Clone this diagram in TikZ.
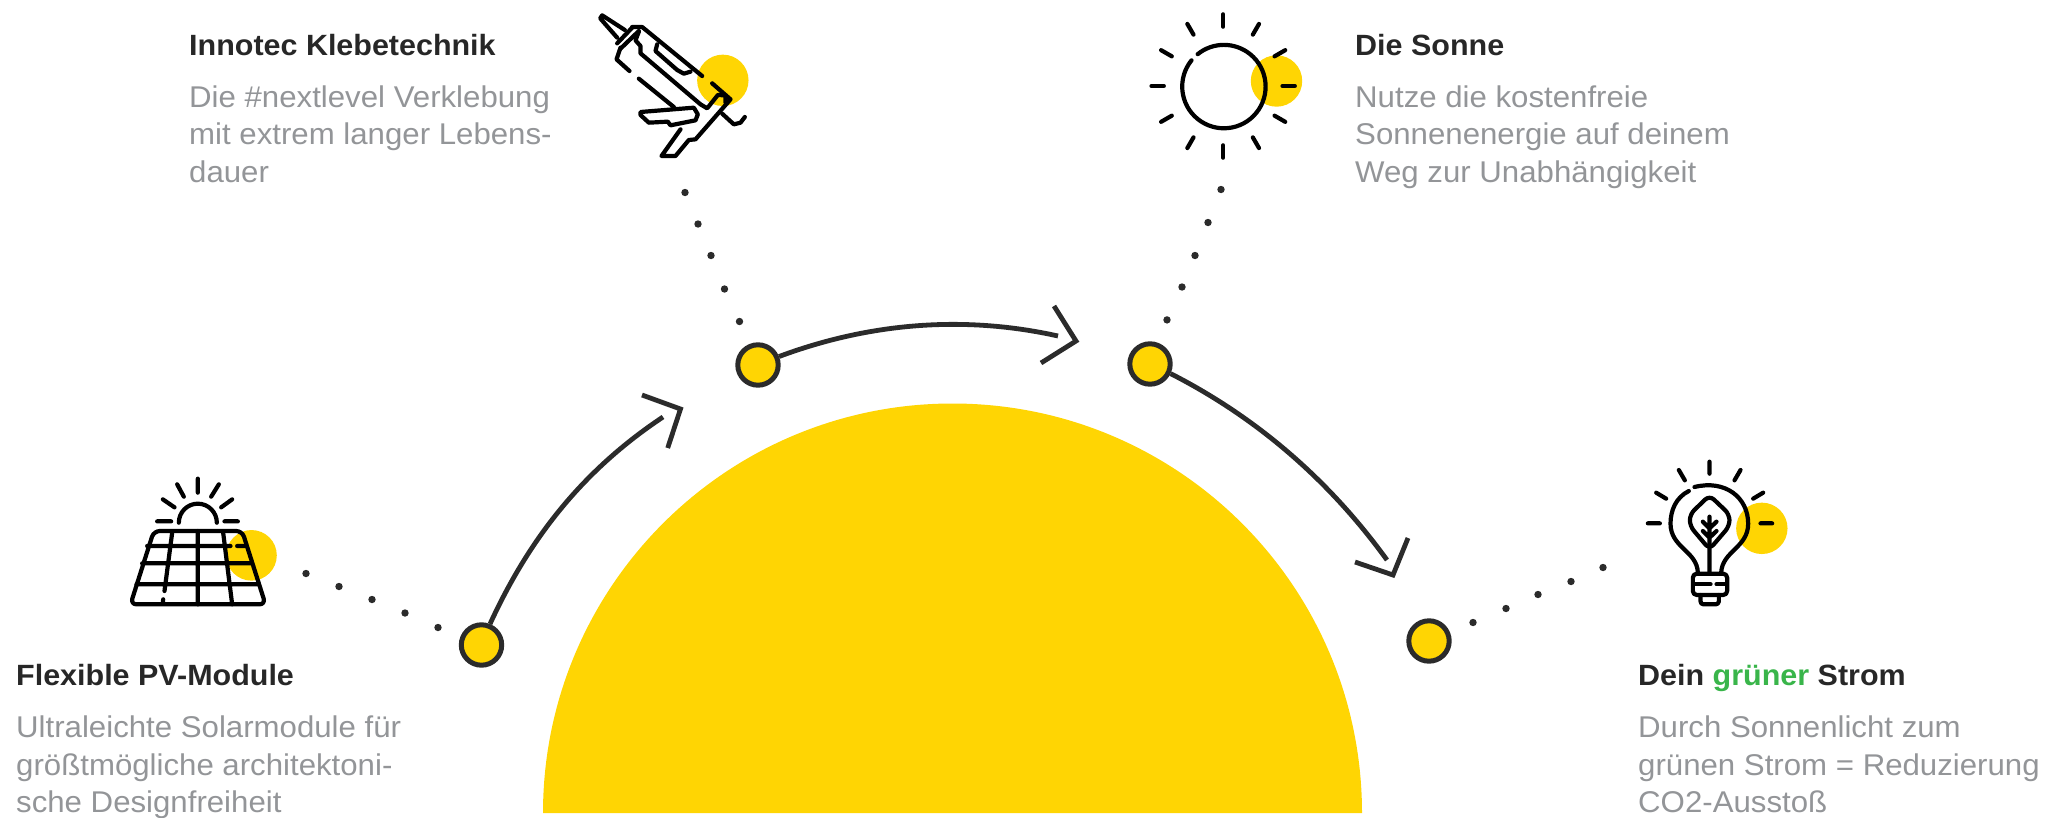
\documentclass[tikz,border=0pt]{standalone}
\usepackage{fontspec}
\setmainfont[FakeStretch=1.04]{Liberation Sans}
\definecolor{sunyellow}{HTML}{FFD503}
\definecolor{inkdark}{HTML}{2B2B2B}
\definecolor{bodygray}{HTML}{939598}
\definecolor{titledark}{HTML}{272727}
\definecolor{leafgreen}{HTML}{39B54A}
\tikzset{
  stationnode/.style={circle,draw=inkdark,fill=sunyellow,line width=5pt,minimum size=40.4pt,inner sep=0pt},
  flowline/.style={draw=inkdark,line width=4.8pt},
  dotmark/.style={fill=inkdark},
  iconline/.style={draw=black,line width=4.2pt,line cap=round,line join=round},
  titletext/.style={inner sep=0pt,anchor=base west,text=titledark,font=\fontsize{29.3}{37}\selectfont\bfseries},
  bodytext/.style={inner sep=0pt,anchor=base west,align=left,text=bodygray,font=\fontsize{30}{37.3}\selectfont},
  zoomgrid/.style={x=0.33333pt,y=-0.33333pt}
}
\begin{document}
\begin{tikzpicture}[x=1pt,y=-1pt]
\useasboundingbox (0,0) rectangle (2061,817);
% big sun
\fill[sunyellow] (543,813) arc[start angle=180,end angle=0,radius=409.5pt] -- cycle;
% stations
\node[stationnode] (n1) at (481.5,645) {};
\node[stationnode] (n2) at (758,365) {};
\node[stationnode] (n3) at (1150,364) {};
\node[stationnode] (n4) at (1429,641) {};
% arrows
\coordinate (e1) at (663,417);
\coordinate (e2) at (1058,336);
\coordinate (e3) at (1387,560);
\draw[flowline] (n1.68) .. controls (528.7,539.7) and (581.7,471) .. (e1);
\draw[flowline] (n2.22) .. controls (871,322.3) and (965,315.3) .. (e2);
\draw[flowline] (n3.-25) .. controls (1257,417.7) and (1329,480) .. (e3);
\coordinate (h1a) at (642,395); \coordinate (h1t) at (680.5,409); \coordinate (h1b) at (667.7,448);
\coordinate (h2a) at (1054,306); \coordinate (h2t) at (1076,341); \coordinate (h2b) at (1041,363);
\coordinate (h3a) at (1355,562); \coordinate (h3t) at (1393,575); \coordinate (h3b) at (1408,538);
\draw[flowline,line join=miter] (h1a) -- (h1t) -- (h1b);
\draw[flowline,line join=miter] (h2a) -- (h2t) -- (h2b);
\draw[flowline,line join=miter] (h3a) -- (h3t) -- (h3b);
% dots
\begin{scope}[shift={(0,0.5)}]
\foreach \p in {(306,573),(339,586),(372,599),(405,612.5),(438,627),
  (685,192),(698,223.5),(711,255),(724.5,288.5),(739.5,321),
  (1221,189),(1208,222),(1195,255),(1182,286.5),(1167,319.4),
  (1473,622),(1506,608),(1538,594),(1571,581),(1603,567)}
  \fill[dotmark] \p circle[radius=3.7pt];
\end{scope}
% gun icon
\begin{scope}[shift={(560.5,1)},zoomgrid]
\fill[sunyellow] (487,238) circle[radius=25.7pt];
\draw[iconline] (193,87) -- (125,43) -- (119,52) -- (170,110);
\draw[iconline] (170,127) -- (215,80) (180,143) -- (235,90);
\draw[iconline] (215,78) -- (245,78) -- (425,225);
\draw[iconline] (290,130) -- (285,150) -- (350,207) -- (370,218) -- (390,212);
\draw[iconline] (235,92) -- (225,118) -- (240,135) -- (240,157) -- (420,310) -- (440,322) -- (472,282) -- (495,283) -- (495,305);
\draw[iconline] (180,140) -- (168,175) -- (207,210);
\draw[iconline] (235,233) -- (340,318);
\draw[iconline] (455,247) -- (510,295) -- (405,415) -- (385,417) -- (345,465) -- (303,465) -- (360,385);
\draw[iconline] (240,333) -- (400,320) -- (412,340) -- (405,358) -- (330,373) -- (322,362) -- (265,365) -- (240,342) -- cycle;
\draw[iconline] (485,338) -- (520,370) -- (540,365) -- (553,348);
\end{scope}
% sun icon
\begin{scope}[shift={(1130.5,1)},zoomgrid]
\fill[sunyellow] (438,240) circle[radius=25.7pt];
\draw[iconline] (183,178) arc[start angle=141,end angle=489,radius=41.7pt];
\foreach \a in {0,30,...,330}
  \draw[iconline] ({278+178*cos(\a)},{255-178*sin(\a)}) -- ({278+215*cos(\a)},{255-215*sin(\a)});
\end{scope}
% panel icon
\begin{scope}[shift={(120.5,466)},zoomgrid]
\fill[sunyellow] (393,268) circle[radius=25.3pt];
\draw[iconline] (175,170) arc[start angle=180,end angle=0,radius=19pt];
\draw[iconline] (232,38) -- (232,80) (170,55) -- (190,92) (295,55) -- (272,92)
  (127,100) -- (162,124) (335,100) -- (302,124) (110,166) -- (152,166) (312,166) -- (352,166);
\draw[iconline,rounded corners=6pt] (100,195) -- (365,195) -- (435,415) -- (30,415) -- cycle;
\draw[iconline] (80,240) -- (330,240) (350,240) -- (378,240)
  (65,292) -- (390,292) (48,355) -- (410,355)
  (232,195) -- (232,415) (155,200) -- (132,375) (128,400) -- (127,412) (308,200) -- (335,415);
\end{scope}
% bulb icon
\begin{scope}[shift={(1630.5,451)},zoomgrid]
\fill[sunyellow] (394,232) circle[radius=25.7pt];
\draw[iconline] (237,32) -- (237,68) (145,57) -- (163,88) (330,57) -- (312,88)
  (77,125) -- (107,143) (398,125) -- (368,143) (52,217) -- (88,217) (390,217) -- (425,217);
\draw[iconline] (192,108) .. controls (285,85) and (353,140) .. (353,218)
  .. controls (353,290) and (275,300) .. (272,365);
\draw[iconline] (175,120) .. controls (135,140) and (120,180) .. (120,218)
  .. controls (120,290) and (200,300) .. (202,365);
\draw[iconline,rounded corners=4pt] (187,368) rectangle (290,432);
\draw[iconline] (190,400) -- (240,400) (258,400) -- (288,400);
\draw[iconline,rounded corners=3pt] (210,432) -- (210,460) -- (265,460) -- (265,432);
\draw[iconline,rounded corners=6pt] (237,133) -- (297,190) -- (297,225) -- (237,295) -- (178,225) -- (178,190) -- cycle;
\draw[iconline] (237,197) -- (237,365) (217,212) -- (237,232) -- (258,212) (217,240) -- (237,260) -- (258,240);
\end{scope}
% texts
\node[titletext] (t1) at (189,55) {Innotec Klebetechnik};
\node[bodytext] (b1) at (189,182) {Die \#nextlevel Verklebung\\mit extrem langer Lebens-\\dauer};
\node[titletext] (t2) at (1355,55) {Die Sonne};
\node[bodytext] (b2) at (1355,182) {Nutze die kostenfreie\\Sonnenenergie auf deinem\\Weg zur Unabhängigkeit};
\node[titletext] (t3) at (16,685) {Flexible PV-Module};
\node[bodytext] (b3) at (16,812.5) {Ultraleichte Solarmodule für\\größtmögliche architektoni-\\sche Designfreiheit};
\node[titletext] (t4) at (1638,685) {Dein \textcolor{leafgreen}{grüner} Strom};
\node[bodytext] (b4) at (1638,812.5) {Durch Sonnenlicht zum\\grünen Strom = Reduzierung\\CO2-Ausstoß};
\end{tikzpicture}
\end{document}
